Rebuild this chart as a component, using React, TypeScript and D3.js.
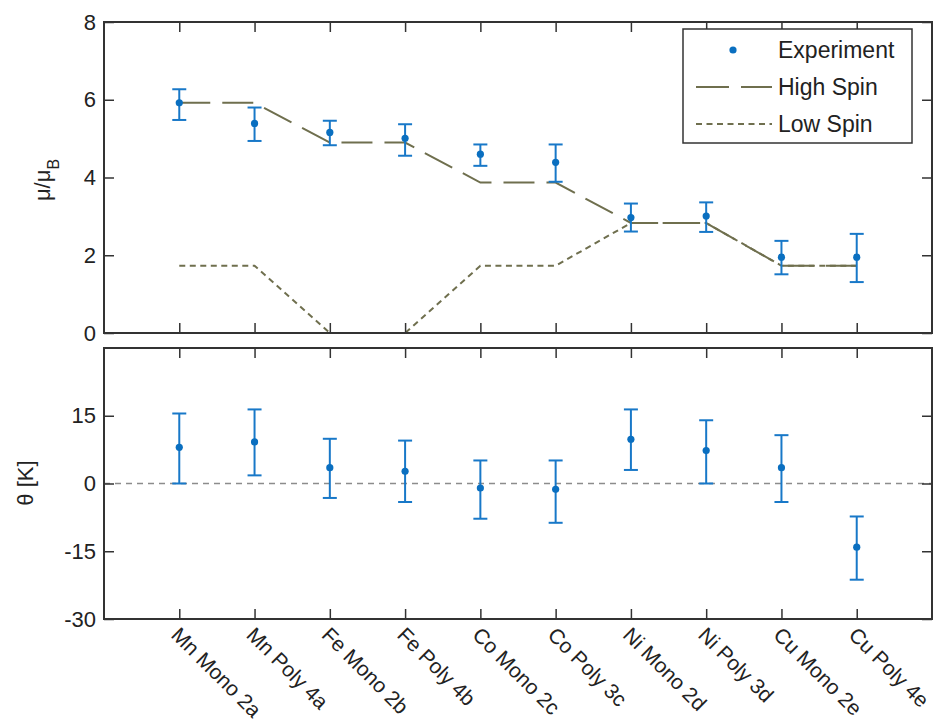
import React, { useEffect, useRef } from 'react';
import * as d3 from 'd3';

// data
const categories = [
  'Mn Mono 2a', 'Mn Poly 4a', 'Fe Mono 2b', 'Fe Poly 4b', 'Co Mono 2c',
  'Co Poly 3c', 'Ni Mono 2d', 'Ni Poly 3d', 'Cu Mono 2e', 'Cu Poly 4e',
];
const muExp = [5.92, 5.39, 5.16, 5.01, 4.6, 4.39, 2.97, 3.01, 1.95, 1.95];
const muHi = [6.27, 5.8, 5.46, 5.37, 4.85, 4.85, 3.33, 3.36, 2.37, 2.55];
const muLo = [5.48, 4.94, 4.83, 4.56, 4.3, 3.89, 2.61, 2.6, 1.51, 1.31];
const highSpin = [5.92, 5.92, 4.9, 4.9, 3.87, 3.87, 2.83, 2.83, 1.73, 1.73];
const lowSpin = [1.73, 1.73, 0, 0, 1.73, 1.73, 2.83, 2.83, 1.73, 1.73];
const theta = [8.0, 9.2, 3.5, 2.7, -1.0, -1.3, 9.8, 7.3, 3.5, -14.1];
const thetaHi = [15.5, 16.4, 9.9, 9.5, 5.1, 5.1, 16.4, 14.0, 10.7, -7.3];
const thetaLo = [0.0, 1.8, -3.2, -4.1, -7.8, -8.7, 3.0, 0.0, -4.1, -21.3];
const muTicks = [0, 2, 4, 6, 8];
const thetaTicks = [-30, -15, 0, 15];
const legendLabels = ['Experiment', 'High Spin', 'Low Spin'];

const W = 939;
const H = 723;
const X0 = 104, X1 = 932;
const T0 = 22, T1 = 333;
const B0 = 348, B1 = 619;
const FONT = '"Liberation Sans", Arial, sans-serif';
const BLUE = '#1878c8';
const OLIVE = '#6f6f4e';
const AXIS = '#333';

const x = d3.scaleLinear().domain([0, 11]).range([X0, X1]);
const yTop = d3.scaleLinear().domain([0, 8]).range([T1, T0]);
const yBot = d3.scaleLinear().domain([-30, 30]).range([B1, B0]);
const idx = categories.map((_, i) => i + 1);

const lineGen = (vals: number[]) =>
  d3.line<number>()
    .x((_, i) => x(i + 1))
    .y((d) => yTop(d))(vals) as string;

const ErrorBars = ({ mid, lo, hi, y }: { mid: number[]; lo: number[]; hi: number[]; y: d3.ScaleLinear<number, number> }) => (
  <g>
    {mid.map((v, i) => {
      const cx = x(i + 1);
      return (
        <g key={i}>
          <line x1={cx} x2={cx} y1={y(lo[i])} y2={y(hi[i])} stroke={BLUE} strokeWidth={2} />
          <line x1={cx - 7} x2={cx + 7} y1={y(lo[i])} y2={y(lo[i])} stroke={BLUE} strokeWidth={2} />
          <line x1={cx - 7} x2={cx + 7} y1={y(hi[i])} y2={y(hi[i])} stroke={BLUE} strokeWidth={2} />
          <circle cx={cx} cy={y(v)} r={3.6} fill="#0a6fc0" />
        </g>
      );
    })}
  </g>
);

const App = () => {
  const axesRef = useRef<SVGGElement>(null);

  useEffect(() => {
    const g = d3.select(axesRef.current);
    g.selectAll('*').remove();

    const panels = [
      { y: yTop, top: T0, bottom: T1, ticks: muTicks },
      { y: yBot, top: B0, bottom: B1, ticks: thetaTicks },
    ];
    panels.forEach((p) => {
      // inward ticks on all four sides, labels only on the left
      g.append('g').attr('transform', `translate(${X0},0)`)
        .call(d3.axisLeft(p.y).tickValues(p.ticks).tickSizeInner(-10).tickSizeOuter(0).tickPadding(8)
          .tickFormat((d) => String(d)));
      g.append('g').attr('transform', `translate(${X1},0)`)
        .call(d3.axisRight(p.y).tickValues(p.ticks).tickSizeInner(-10).tickSizeOuter(0).tickFormat(() => ''));
      g.append('g').attr('transform', `translate(0,${p.bottom})`)
        .call(d3.axisBottom(x).tickValues(idx).tickSizeInner(-10).tickSizeOuter(0).tickFormat(() => ''));
      g.append('g').attr('transform', `translate(0,${p.top})`)
        .call(d3.axisTop(x).tickValues(idx).tickSizeInner(-10).tickSizeOuter(0).tickFormat(() => ''));
    });

    g.selectAll('.domain').remove();
    g.selectAll('.tick line').attr('stroke', AXIS).attr('stroke-width', 1.5);
    g.selectAll('.tick text')
      .attr('fill', '#222')
      .style('font-size', '22px')
      .style('font-family', FONT);
  }, []);

  return (
    <div style={{ position: 'absolute', left: 0, top: 0 }}>
      <svg width={W} height={H} style={{ display: 'block', background: '#fff' }}>
        <rect x={0} y={0} width={W} height={H} fill="#fff" />

        {/* top panel: magnetic moment */}
        <path d={lineGen(lowSpin)} fill="none" stroke={OLIVE} strokeWidth={2} strokeDasharray="6 4.5" />
        <path d={lineGen(highSpin)} fill="none" stroke={OLIVE} strokeWidth={2} strokeDasharray="31 12" />
        <ErrorBars mid={muExp} lo={muLo} hi={muHi} y={yTop} />

        {/* bottom panel: Weiss temperature */}
        <line x1={X0} x2={X1} y1={yBot(0)} y2={yBot(0)} stroke="#8c8c8c" strokeWidth={1.6} strokeDasharray="6 5" />
        <ErrorBars mid={theta} lo={thetaLo} hi={thetaHi} y={yBot} />

        <g ref={axesRef} />
        <rect x={X0} y={T0} width={X1 - X0} height={T1 - T0} fill="none" stroke={AXIS} strokeWidth={2} />
        <rect x={X0} y={B0} width={X1 - X0} height={B1 - B0} fill="none" stroke={AXIS} strokeWidth={2} />

        {/* rotated category labels */}
        {categories.map((c, i) => (
          <text
            key={c}
            transform={`translate(${x(i + 1) - 4},${B1 + 12}) rotate(45)`}
            dy="0.35em"
            fontSize={21}
            fontFamily={FONT}
            fill="#222"
          >
            {c}
          </text>
        ))}

        {/* axis titles */}
        <text transform="translate(50,180) rotate(-90)" textAnchor="middle" fontSize={22} fontFamily={FONT} fill="#222">
          μ/μ<tspan baselineShift="sub" fontSize={16}>B</tspan>
        </text>
        <text transform="translate(33,483) rotate(-90)" textAnchor="middle" fontSize={22} fontFamily={FONT} fill="#222">
          θ [K]
        </text>

        {/* legend */}
        <g>
          <rect x={683} y={29} width={229} height={114} fill="#fff" stroke={AXIS} strokeWidth={1.5} />
          {legendLabels.map((l, i) => {
            const ly = 50 + i * 37;
            return (
              <g key={l}>
                {i === 0 && <circle cx={733} cy={ly} r={3.6} fill="#0a6fc0" />}
                {i === 1 && <line x1={696} x2={772} y1={ly} y2={ly} stroke={OLIVE} strokeWidth={2} strokeDasharray="33 12" />}
                {i === 2 && <line x1={696} x2={772} y1={ly} y2={ly} stroke={OLIVE} strokeWidth={2} strokeDasharray="6 4.5" />}
                <text x={778} y={ly} dy="0.35em" fontSize={23} fontFamily={FONT} fill="#222">{l}</text>
              </g>
            );
          })}
        </g>
      </svg>
    </div>
  );
};

export default App;
